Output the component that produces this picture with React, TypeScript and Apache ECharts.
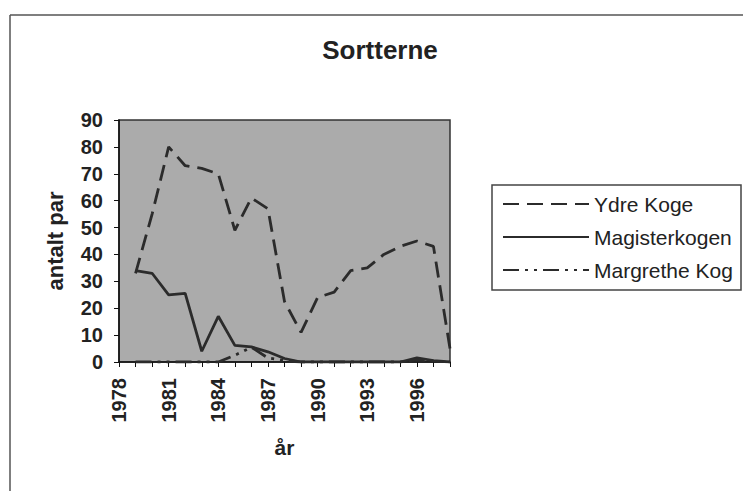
import React, { useEffect, useRef } from "react";
import * as echarts from "echarts";

const years = ["1978","1979","1980","1981","1982","1983","1984","1985","1986","1987","1988","1989","1990","1991","1992","1993","1994","1995","1996","1997","1998"];
const ydreKoge = [null, 33, 55, 80, 73, 72, 70, 49, 61, 57, 22.5, 11, 24, 26, 34, 35, 40, 43, 45, 43, 5];
const magisterkogen = [null, 34, 33, 25, 25.5, 4, 17, 6.2, 5.6, 3.8, 1.3, 0, 0, 0, 0, 0, 0, 0, 1.5, 0.5, 0];
const margretheKog = [null, 0, 0, 0, 0, 0, 0, 2.5, 5.5, 1.5, 0.5, 0, 0, 0, 0, 0, 0, 0, 0.8, 0.3, 0];
const seriesNames = ["Ydre Koge", "Magisterkogen", "Margrethe Kog"];

const FONT = "'Liberation Sans', Arial, sans-serif";
const INK = "#222";
const LINE = "#2b2b2b";

export default function App() {
  const ref = useRef<HTMLDivElement>(null);
  useEffect(() => {
    if (!ref.current) return;
    const chart = echarts.init(ref.current, undefined, { renderer: "svg" });
    chart.setOption({
      animation: false,
      backgroundColor: "#fff",
      title: {
        text: "Sortterne",
        left: 375,
        top: 32,
        textAlign: "center",
        textStyle: { fontFamily: FONT, fontSize: 26, fontWeight: "bold", color: INK },
      },
      grid: {
        left: 119, top: 120, width: 331, height: 242,
        show: true, backgroundColor: "#ababab", borderColor: "#333", borderWidth: 1.5,
      },
      xAxis: {
        type: "category",
        data: years,
        boundaryGap: false,
        name: "år",
        nameLocation: "middle",
        nameGap: 75,
        nameTextStyle: { fontFamily: FONT, fontSize: 21, fontWeight: "bold", color: INK },
        axisLine: { lineStyle: { color: "#111", width: 1.5 } },
        axisTick: { show: true, interval: 0, length: 5, lineStyle: { color: "#111" } },
        axisLabel: {
          interval: 2, rotate: 90, margin: 16,
          fontFamily: FONT, fontSize: 20, fontWeight: "bold", color: INK,
        },
        splitLine: { show: false },
      },
      yAxis: {
        type: "value",
        min: 0, max: 90, interval: 10,
        name: "antalt par",
        nameLocation: "middle",
        nameGap: 53,
        nameTextStyle: { fontFamily: FONT, fontSize: 22, fontWeight: "bold", color: INK },
        axisLine: { show: true, lineStyle: { color: "#111", width: 1.5 } },
        axisTick: { show: true, length: 5, lineStyle: { color: "#111" } },
        axisLabel: { margin: 16, fontFamily: FONT, fontSize: 20, fontWeight: "bold", color: INK },
        splitLine: { show: false },
      },
      legend: {
        orient: "vertical",
        left: 497,
        top: 188,
        itemWidth: 86,
        itemHeight: 14,
        itemGap: 11,
        data: seriesNames,
        itemStyle: { opacity: 0 },
        textStyle: { fontFamily: FONT, fontSize: 21, color: INK, lineHeight: 22 },
      },
      graphic: [
        { type: "line", shape: { x1: 10, y1: 15, x2: 743, y2: 15 }, style: { stroke: "#555", lineWidth: 1.5 } },
        { type: "line", shape: { x1: 10, y1: 15, x2: 10, y2: 491 }, style: { stroke: "#555", lineWidth: 1.5 } },
        { type: "rect", shape: { x: 492, y: 185, width: 249, height: 105 }, style: { fill: "none", stroke: "#444", lineWidth: 1.5 } },
      ],
      series: [
        {
          name: seriesNames[0], type: "line", data: ydreKoge, symbol: "none",
          lineStyle: { color: LINE, width: 2.8, type: [16, 8] }, itemStyle: { color: LINE },
        },
        {
          name: seriesNames[1], type: "line", data: magisterkogen, symbol: "none",
          lineStyle: { color: LINE, width: 2.8, type: "solid" }, itemStyle: { color: LINE },
        },
        {
          name: seriesNames[2], type: "line", data: margretheKog, symbol: "none",
          lineStyle: { color: LINE, width: 2.8, type: [16, 6, 3, 6, 3, 6] }, itemStyle: { color: LINE },
        },
      ],
    });
    return () => chart.dispose();
  }, []);
  return <div ref={ref} style={{ position: "fixed", left: 0, top: 0, width: 743, height: 491 }} />;
}
